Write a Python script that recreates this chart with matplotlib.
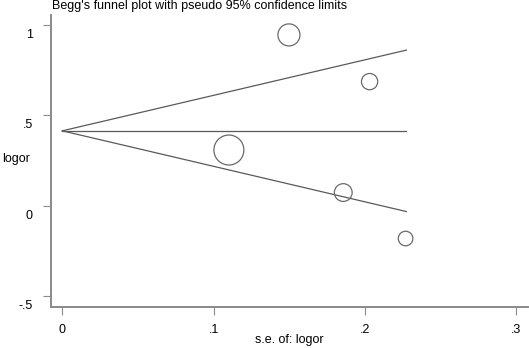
import matplotlib
matplotlib.use("Agg")
import matplotlib.pyplot as plt
import matplotlib.transforms as mtransforms
import numpy as np

# study estimates
se = [0.1498, 0.2031, 0.1101, 0.1857, 0.2269]
logor = [0.945, 0.687, 0.309, 0.074, -0.180]

# pooled estimate and pseudo 95% limits (end points at se = 0 and max se)
line_se = [0.0, 0.2274]
pooled = [0.415, 0.415]
upper = [0.415, 0.861]
lower = [0.415, -0.031]

xticks = [0, 0.1, 0.2, 0.3]
xlabels = ["0", ".1", ".2", ".3"]
yticks = [-0.5, 0, 0.5, 1]
ylabels = ["-.5", "0", ".5", "1"]

plt.rcParams["font.family"] = ["Liberation Sans", "DejaVu Sans"]

W, H = 529, 348
fig = plt.figure(figsize=(W / 100, H / 100), dpi=100)
ax = fig.add_axes([51 / W, 1 - 307.3 / H, (528 - 51) / W, (307.3 - 15) / H])

line_col = "#5a5a5a"
ax.plot(line_se, pooled, color=line_col, lw=0.9)
ax.plot(line_se, upper, color=line_col, lw=0.9)
ax.plot(line_se, lower, color=line_col, lw=0.9)

# marker area proportional to weight 1/se^2
sizes = 5.65 / np.array(se) ** 2
ax.scatter(se, logor, s=sizes, facecolors="none", edgecolors="#6a6a6a", linewidths=0.9, zorder=3)

ax.set_xlim(-0.00747, 0.3078)
ax.set_ylim(-0.56, 1.055)

for s in ["top", "right"]:
    ax.spines[s].set_visible(False)
for s in ["left", "bottom"]:
    ax.spines[s].set_color("#8a8a8a")
    ax.spines[s].set_linewidth(1.4)

ax.set_xticks(xticks)
ax.set_xticklabels(xlabels)
ax.set_yticks(yticks)
ax.set_yticklabels(ylabels)
ax.tick_params(axis="both", colors="#8a8a8a", length=5.8, width=0.8, labelcolor="black", labelsize=9)
ax.tick_params(axis="y", pad=7.2)
ax.tick_params(axis="x", pad=6.0)

# y tick labels sit a bit below their ticks in the original
off = mtransforms.ScaledTranslation(0, -8.5 / 100, fig.dpi_scale_trans)
for lab in ax.get_yticklabels():
    lab.set_transform(lab.get_transform() + off)

fig.text(51.5 / W, 1 - 6.5 / H, "Begg's funnel plot with pseudo 95% confidence limits",
         fontsize=9, ha="left", va="center")
fig.text(2 / W, 1 - 159 / H, "logor", fontsize=9, ha="left", va="center")
fig.text(289 / W, 1 - 340 / H, "s.e. of: logor", fontsize=9, ha="center", va="center")

fig.savefig("out.png", dpi=100)
